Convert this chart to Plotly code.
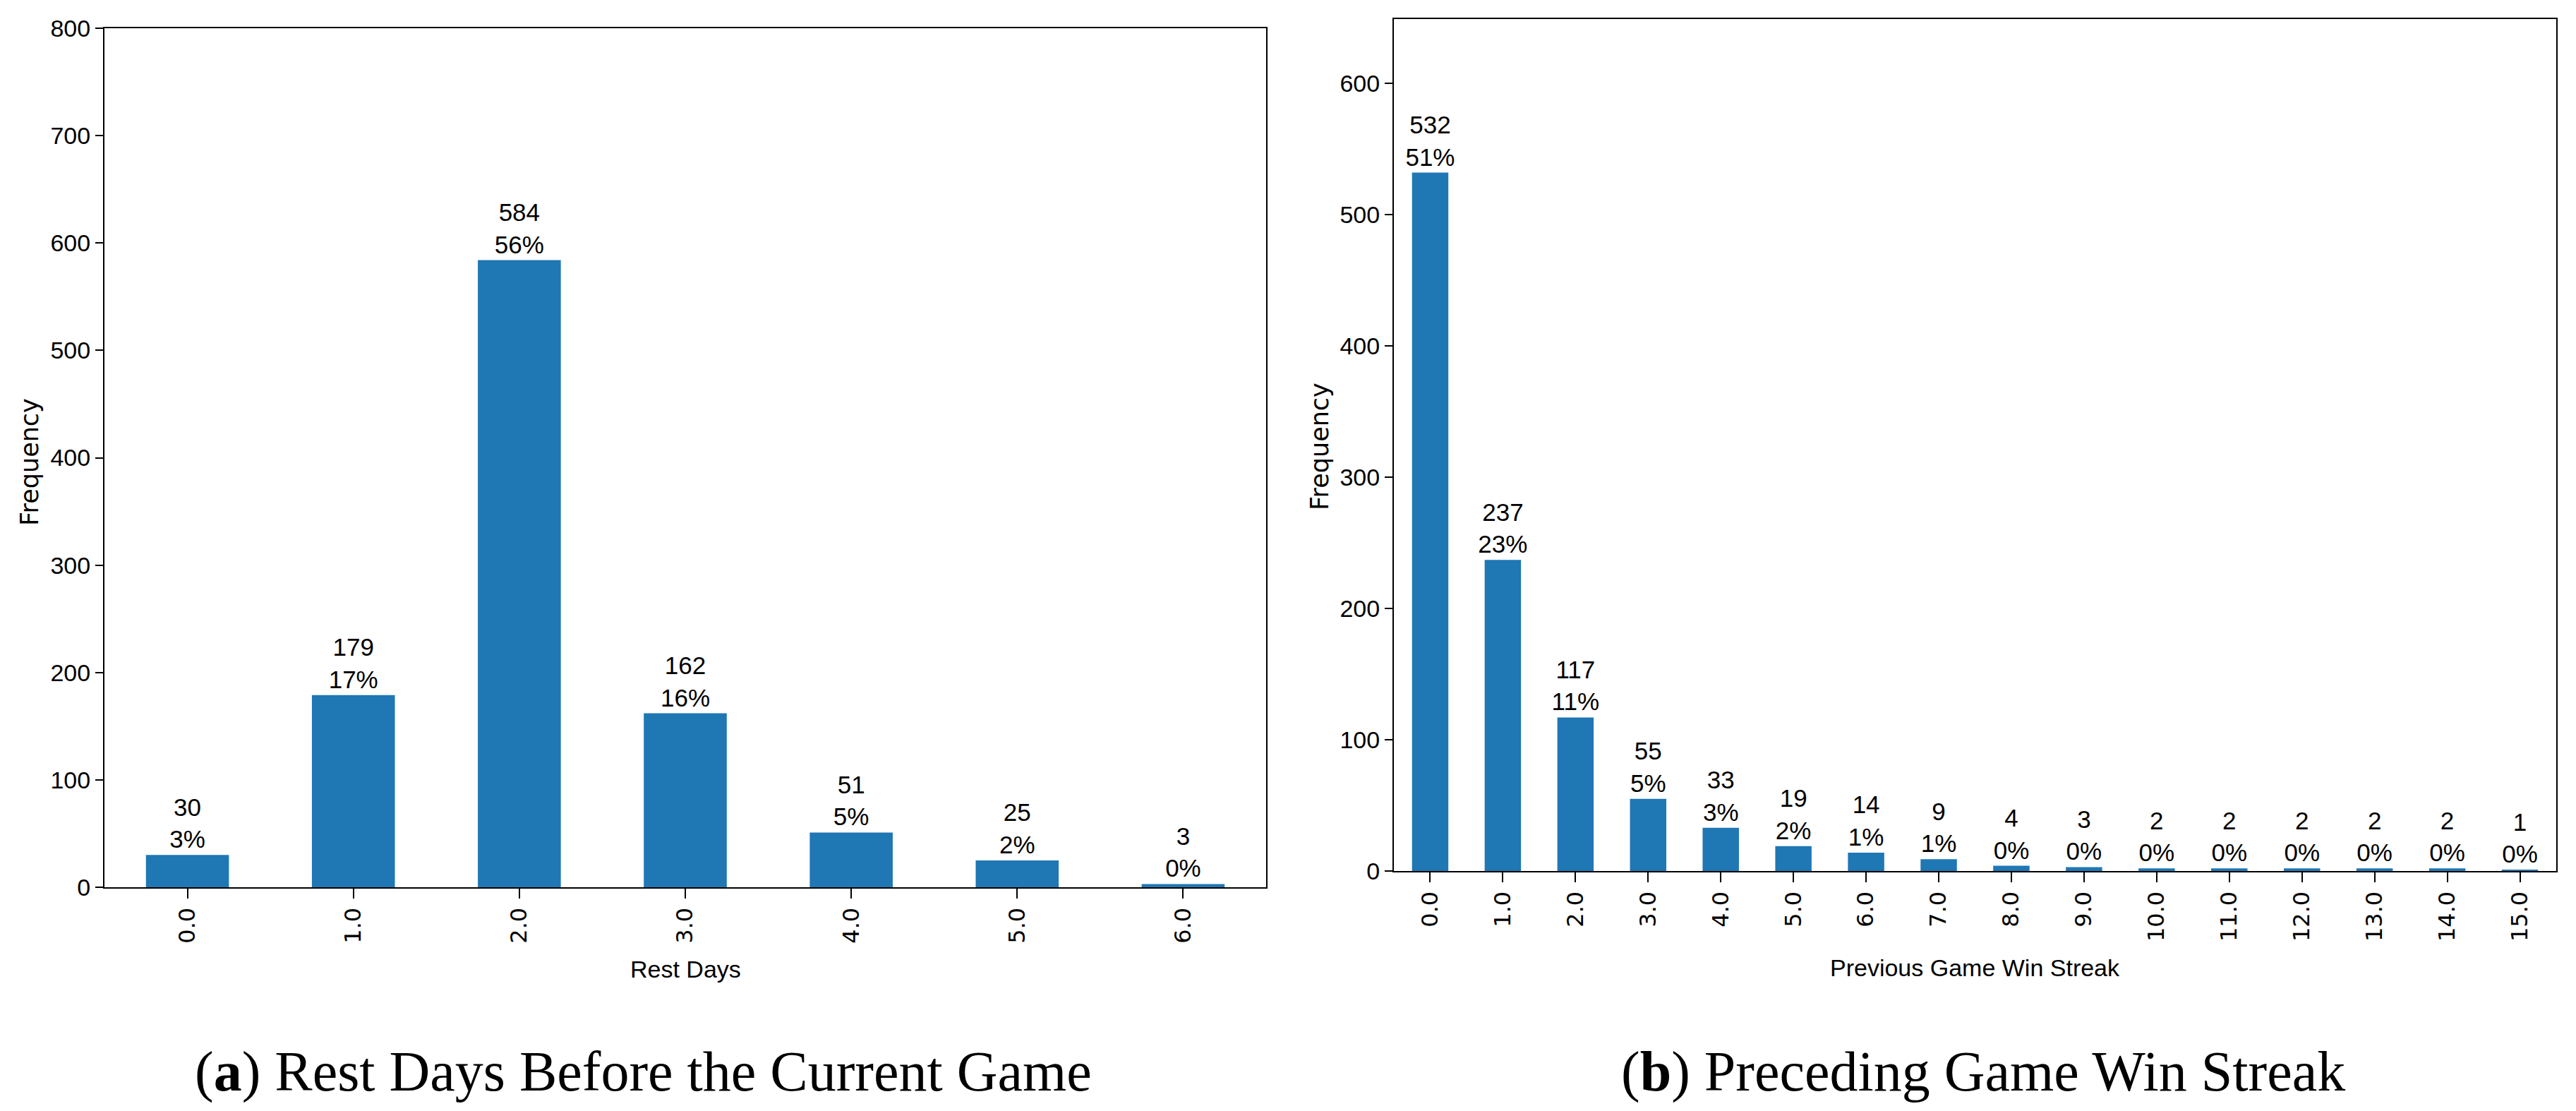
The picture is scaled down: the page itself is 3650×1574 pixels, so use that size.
import plotly.graph_objects as go

# data
rest_days = ["0.0", "1.0", "2.0", "3.0", "4.0", "5.0", "6.0"]
rest_counts = [30, 179, 584, 162, 51, 25, 3]

streak_days = ["0.0", "1.0", "2.0", "3.0", "4.0", "5.0", "6.0", "7.0",
               "8.0", "9.0", "10.0", "11.0", "12.0", "13.0", "14.0", "15.0"]
streak_counts = [532, 237, 117, 55, 33, 19, 14, 9, 4, 3, 2, 2, 2, 2, 2, 1]

W, H = 3650, 1574
OFF = 8  # page body margin shifts the figure by this much
BLUE = "#1f77b4"
NARROW = "Liberation Sans, Arial, sans-serif"
WIDE = "DejaVu Sans, sans-serif"


def labels(counts):
    total = sum(counts)
    return [f"{c}<br>{round(100 * c / total)}%" for c in counts]


def px_x(p):
    return (p - OFF) / W


def px_y(p):
    return 1 - (p - OFF) / H


fig = go.Figure()
fig.add_trace(go.Bar(x=rest_days, y=rest_counts, text=labels(rest_counts),
                     textposition="outside", constraintext="none", cliponaxis=False,
                     textfont=dict(family=NARROW, size=35, color="black"),
                     marker=dict(color=BLUE, line=dict(width=0)), width=0.5,
                     xaxis="x", yaxis="y"))
fig.add_trace(go.Bar(x=streak_days, y=streak_counts, text=labels(streak_counts),
                     textposition="outside", constraintext="none", cliponaxis=False,
                     textfont=dict(family=NARROW, size=35, color="black"),
                     marker=dict(color=BLUE, line=dict(width=0)), width=0.5,
                     xaxis="x2", yaxis="y2"))

xax = dict(type="category", showline=True, mirror=True, linecolor="black", linewidth=2,
           ticks="outside", ticklen=14, tickwidth=2, tickcolor="black", tickangle=-90,
           tickfont=dict(family=WIDE, size=32, color="black"), showgrid=False,
           zeroline=False, automargin=False)
yax = dict(showline=True, mirror=True, linecolor="black", linewidth=2,
           ticks="outside", ticklen=11, tickwidth=2, tickcolor="black",
           tickfont=dict(family=NARROW, size=34, color="black"), showgrid=False,
           zeroline=False, automargin=False)

fig.update_layout(
    width=W, height=H, paper_bgcolor="white", plot_bgcolor="white",
    margin=dict(l=0, r=0, t=0, b=0, autoexpand=False), showlegend=False,
    xaxis=dict(xax, domain=[px_x(148), px_x(1794)], range=[-0.5, 6.5], anchor="y"),
    yaxis=dict(yax, domain=[px_y(1257), px_y(40)], range=[0, 800], dtick=100, anchor="x"),
    xaxis2=dict(xax, domain=[px_x(1975), px_x(3622)], range=[-0.5, 15.5], anchor="y2"),
    yaxis2=dict(yax, domain=[px_y(1234), px_y(27)], range=[0, 649], dtick=100, anchor="x2"),
)

ann = [
    (42, 655, "Frequency", WIDE, 35, -90),
    (1870, 633, "Frequency", WIDE, 35, -90),
    (971, 1373, "Rest Days", NARROW, 34, 0),
    (2798, 1371, "Previous Game Win Streak", NARROW, 34, 0),
    (911, 1518, "(<b>a</b>) Rest Days Before the Current Game", "Liberation Serif", 80, 0),
    (2810, 1518, "(<b>b</b>) Preceding Game Win Streak", "Liberation Serif", 80, 0),
]
for x, y, t, fam, size, ang in ann:
    fig.add_annotation(x=px_x(x), y=px_y(y), xref="paper", yref="paper", text=t,
                       showarrow=False, textangle=ang, xanchor="center", yanchor="middle",
                       font=dict(family=fam, size=size, color="black"))

fig.write_html("out.html")
